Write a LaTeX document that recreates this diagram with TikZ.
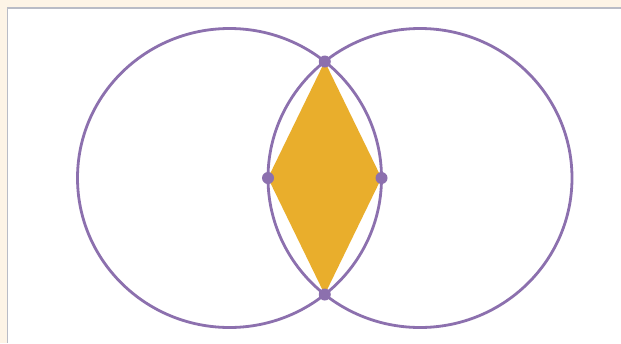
\documentclass[tikz,border=0pt]{standalone}
\begin{document}
\begin{tikzpicture}[x=1pt,y=-1pt,
  ring/.style={draw=ringpurple,line width=2.8pt},
  dotmark/.style={fill=ringpurple},
  lens/.style={fill=lensgold}]
\definecolor{ringpurple}{HTML}{8C70AE}
\definecolor{lensgold}{HTML}{E9AE2C}
\definecolor{pagebeige}{HTML}{FDF4E6}
\definecolor{framegray}{HTML}{B9BCC6}
\useasboundingbox (0,0) rectangle (621,343);
\fill[pagebeige] (0,0) rectangle (621,343);
\fill[white] (7.5,8) rectangle (621,343);
\draw[framegray,line width=1.5pt] (7.5,343) -- (7.5,8) -- (621,8);
% geometry
\coordinate (cl) at (229.5,178);
\coordinate (cr) at (420,178);
\coordinate (top) at (324.75,61.5);
\coordinate (bot) at (324.75,294.5);
\coordinate (lft) at (268,178);
\coordinate (rgt) at (381.5,178);
\fill[lens] (top) -- (rgt) -- (bot) -- (lft) -- cycle;
\draw[ring] (cl) ellipse [x radius=152, y radius=149.5];
\draw[ring] (cr) ellipse [x radius=152, y radius=149.5];
\foreach \p in {top,bot,lft,rgt} \fill[dotmark] (\p) circle (6);
\end{tikzpicture}
\end{document}
